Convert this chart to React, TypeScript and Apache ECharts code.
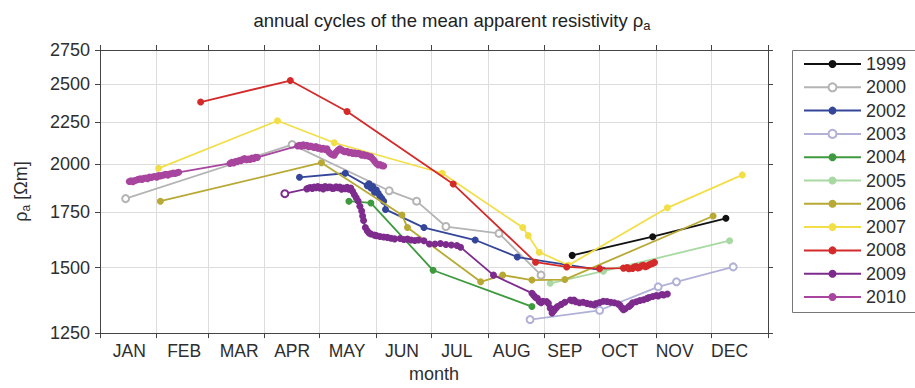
import React, { useEffect, useRef } from 'react';
import * as echarts from 'echarts';

// x axis is day of year; ticks/grid at month starts, labels spread across the year
const MONTHS = ['JAN', 'FEB', 'MAR', 'APR', 'MAY', 'JUN', 'JUL', 'AUG', 'SEP', 'OCT', 'NOV', 'DEC'];
const MONTH_STARTS = [0, 31, 59, 90, 120, 151, 181, 212, 243, 273, 304, 334, 365];
const MONTH_LABEL_DAYS = [16, 46, 76, 105, 135, 165, 195, 225, 254, 284, 314, 344];
const Y_TICKS = [1250, 1500, 1750, 2000, 2250, 2500, 2750];

const YEARS = ['1999', '2000', '2002', '2003', '2004', '2005', '2006', '2007', '2008', '2009', '2010'];
const COLORS = ['#111111', '#b4b4b4', '#34469a', '#b1b1d8', '#3f9a3f', '#a9d9a2', '#b8a934', '#f2df48', '#d42a2a', '#7e2b8e', '#a8459e'];

// [day of year, apparent resistivity in Ωm]
const S1999 = [[258, 1552], [302, 1635], [342, 1721]];
const S2000 = [[14, 1818], [105, 2113], [158, 1858], [173, 1805], [189, 1682], [218, 1650], [241, 1469]];
const S2002 = [[109, 1929], [134, 1951], [146, 1885], [147, 1895], [148, 1872], [149, 1880], [150, 1850], [151, 1862], [152, 1845], [153, 1830], [154, 1818], [155, 1805], [156, 1764], [177, 1677], [205, 1620], [228, 1545], [275, 1489]];
const S2003 = [[235, 1298], [273, 1332], [305, 1422], [315, 1442], [346, 1503]];
const S2004 = [[136, 1805], [148, 1796], [182, 1489], [236, 1346]];
const S2005 = [[246, 1436], [275, 1485], [344, 1617]];
const S2006 = [[33, 1805], [121, 2009], [165, 1737], [168, 1677], [208, 1442], [220, 1469], [236, 1449], [254, 1451], [335, 1732]];
const S2007 = [[32, 1978], [97, 2258], [128, 2124], [187, 1951], [231, 1677], [234, 1640], [240, 1566], [256, 1510], [310, 1772], [351, 1942]];
const S2008 = [[55, 2379], [104, 2526], [135, 2317], [193, 1893], [238, 1523], [255, 1503], [273, 1496], [286, 1498], [288, 1500], [289, 1496], [291, 1497], [292, 1503], [293, 1505], [294, 1499], [295, 1502], [296, 1508], [297, 1510], [298, 1504], [299, 1507], [300, 1512], [301, 1515], [302, 1518], [303, 1522]];
const S2009 = [[101, 1843], [113, 1868], [114, 1872], [115, 1875], [116, 1870], [117, 1877], [118, 1874], [119, 1880], [120, 1872], [121, 1876], [122, 1868], [123, 1880], [124, 1874], [125, 1878], [126, 1877], [127, 1870], [128, 1872], [129, 1879], [130, 1874], [131, 1877], [132, 1866], [133, 1872], [134, 1869], [135, 1876], [136, 1866], [137, 1872], [138, 1855], [139, 1838], [140, 1822], [141, 1806], [142, 1780], [143, 1756], [143.5, 1732], [144, 1710], [145, 1677], [146, 1662], [147, 1652], [148, 1647], [150, 1642], [151, 1640], [153, 1636], [155, 1634], [157, 1632], [159, 1628], [161, 1625], [164, 1627], [166, 1622], [168, 1624], [170, 1620], [172, 1618], [174, 1620], [177, 1617], [180, 1602], [183, 1602], [186, 1604], [189, 1600], [192, 1598], [195, 1595], [197, 1588], [215, 1469], [236, 1397], [237, 1388], [238, 1380], [239, 1377], [240, 1365], [241, 1360], [242, 1366], [244, 1365], [245, 1358], [246, 1340], [247, 1322], [248, 1330], [249, 1339], [250, 1346], [252, 1354], [254, 1362], [257, 1371], [258, 1368], [259, 1371], [260, 1364], [262, 1360], [264, 1362], [266, 1358], [268, 1355], [270, 1352], [271, 1357], [273, 1361], [275, 1366], [277, 1365], [279, 1362], [281, 1360], [283, 1356], [284, 1352], [285, 1342], [286, 1334], [287, 1338], [289, 1346], [290, 1352], [291, 1360], [293, 1364], [295, 1369], [297, 1372], [299, 1377], [300, 1380], [302, 1384], [304, 1388], [305, 1386], [307, 1392], [308, 1390], [310, 1394]];
const S2010 = [[16, 1907], [17, 1910], [18, 1906], [19, 1912], [20, 1915], [21, 1918], [22, 1921], [23, 1917], [24, 1924], [25, 1925], [26, 1922], [27, 1930], [28, 1928], [29, 1932], [30, 1933], [31, 1930], [32, 1938], [33, 1936], [34, 1940], [35, 1942], [36, 1945], [37, 1941], [38, 1947], [39, 1948], [40, 1952], [41, 1950], [42, 1954], [43, 1956], [71, 2005], [72, 2012], [73, 2008], [74, 2016], [75, 2014], [76, 2022], [77, 2020], [78, 2028], [79, 2033], [80, 2026], [81, 2030], [82, 2027], [83, 2035], [84, 2032], [85, 2040], [86, 2039], [108, 2105], [109, 2109], [110, 2103], [111, 2112], [112, 2106], [113, 2109], [114, 2100], [115, 2104], [116, 2100], [117, 2096], [118, 2102], [119, 2092], [120, 2094], [121, 2086], [122, 2092], [123, 2084], [124, 2089], [125, 2070], [126, 2060], [127, 2055], [128, 2051], [129, 2068], [130, 2080], [131, 2089], [132, 2082], [133, 2075], [134, 2071], [135, 2074], [136, 2066], [137, 2069], [138, 2062], [139, 2065], [140, 2060], [141, 2063], [142, 2059], [143, 2052], [144, 2055], [145, 2048], [146, 2050], [147, 2044], [148, 2042], [149, 2030], [150, 2018], [151, 2005], [152, 1996], [153, 1999], [154, 1993], [155, 1991]];

const SERIES_DATA = [S1999, S2000, S2002, S2003, S2004, S2005, S2006, S2007, S2008, S2009, S2010];
const HOLLOW = ['2000', '2003'];

const FONT = '"Liberation Sans", Arial, Helvetica, sans-serif';
const AXIS_COLOR = '#444';
const TEXT_COLOR = '#2e2e2e';

export default function App() {
  const ref = useRef<HTMLDivElement>(null);

  useEffect(() => {
    document.body.style.margin = '0';
    if (!ref.current) return;
    const chart = echarts.init(ref.current, undefined, { renderer: 'svg' });

    const monthLabel = (v: number) => {
      let best = 0;
      MONTH_LABEL_DAYS.forEach((d, i) => {
        if (Math.abs(d - v) < Math.abs(MONTH_LABEL_DAYS[best] - v)) best = i;
      });
      return MONTHS[best];
    };

    const xBase = {
      type: 'value',
      min: 0,
      max: 365,
      axisLine: { show: true, onZero: false, lineStyle: { color: AXIS_COLOR, width: 1 } },
      axisTick: { show: true, inside: false, length: 5, customValues: MONTH_STARTS, lineStyle: { color: AXIS_COLOR } },
    };
    const yBase = {
      type: 'log',
      logBase: 10,
      min: 1250,
      max: 2750,
      axisLine: { show: true, onZero: false, lineStyle: { color: AXIS_COLOR, width: 1 } },
      axisTick: { show: true, inside: false, length: 5, customValues: Y_TICKS, lineStyle: { color: AXIS_COLOR } },
    };

    const series = YEARS.map((year, i) => {
      const data = SERIES_DATA[i].map((p, k) => {
        if (year === '2009' && k === 0) return { value: p, symbol: 'emptyCircle' };
        return p;
      });
      const hollow = HOLLOW.includes(year);
      return {
        name: year,
        type: 'line',
        data,
        color: COLORS[i],
        symbol: hollow ? 'emptyCircle' : 'circle',
        symbolSize: 7,
        showSymbol: true,
        lineStyle: { width: 1.8, color: COLORS[i] },
        itemStyle: { color: COLORS[i], borderColor: COLORS[i], borderWidth: hollow ? 1.5 : 0 },
        emphasis: { disabled: true },
        z: 2 + i,
      };
    });

    chart.setOption({
      animation: false,
      textStyle: { fontFamily: FONT },
      grid: { left: 100, right: 147, top: 50, bottom: 51, containLabel: false },
      graphic: [
        {
          type: 'text',
          x: 452,
          y: 9,
          style: {
            text: 'annual cycles of the mean apparent resistivity ρ{sub|a}',
            textAlign: 'center',
            fill: '#222',
            font: `18.5px ${FONT}`,
            rich: { sub: { fontSize: 13, fontFamily: FONT, fill: '#222', padding: [10, 0, 0, 0] } },
          },
        },
        {
          // legend frame, running past the right edge of the canvas
          type: 'rect',
          z: 1,
          shape: { x: 792.5, y: 50.5, width: 160, height: 262 },
          style: { fill: '#fff', stroke: '#777', lineWidth: 1 },
        },
      ],
      xAxis: [
        {
          ...xBase,
          position: 'bottom',
          axisLabel: {
            customValues: MONTH_LABEL_DAYS,
            formatter: monthLabel,
            fontSize: 17.5,
            color: TEXT_COLOR,
            margin: 9,
            fontFamily: FONT,
          },
          splitLine: { show: true, lineStyle: { color: '#dcdcdc', width: 1 } },
          name: 'month',
          nameLocation: 'middle',
          nameGap: 30,
          nameTextStyle: { fontSize: 18, color: TEXT_COLOR, fontFamily: FONT },
        },
        {
          ...xBase,
          position: 'top',
          axisLabel: { show: false },
          splitLine: { show: false },
        },
      ],
      yAxis: [
        {
          ...yBase,
          position: 'left',
          axisLabel: {
            customValues: Y_TICKS,
            formatter: (v: number) => String(Math.round(v)),
            fontSize: 18,
            color: TEXT_COLOR,
            margin: 10,
            fontFamily: FONT,
          },
          splitLine: { show: true, lineStyle: { color: '#dcdcdc', width: 1 } },
          name: '{g|ρ}{s|a}{g| [Ωm]}',
          nameLocation: 'middle',
          nameRotate: 90,
          nameGap: 68,
          nameTextStyle: {
            color: TEXT_COLOR,
            fontSize: 18,
            fontFamily: FONT,
            rich: {
              g: { fontSize: 18, color: TEXT_COLOR, fontFamily: FONT },
              s: { fontSize: 12, color: TEXT_COLOR, fontFamily: FONT, padding: [10, 0, 0, 0] },
            },
          },
        },
        {
          ...yBase,
          position: 'right',
          axisLabel: { show: false },
          splitLine: { show: false },
        },
      ],
      legend: {
        orient: 'vertical',
        left: 792,
        top: 50,
        z: 10,
        padding: [5, 12, 7, 11],
        itemWidth: 57,
        itemHeight: 10,
        itemGap: 5.3,
        borderWidth: 0,
        textStyle: { fontSize: 18, color: TEXT_COLOR, fontFamily: FONT, lineHeight: 18 },
        data: YEARS,
      },
      series,
    });

    return () => chart.dispose();
  }, []);

  return <div ref={ref} style={{ width: 915, height: 388 }} />;
}
